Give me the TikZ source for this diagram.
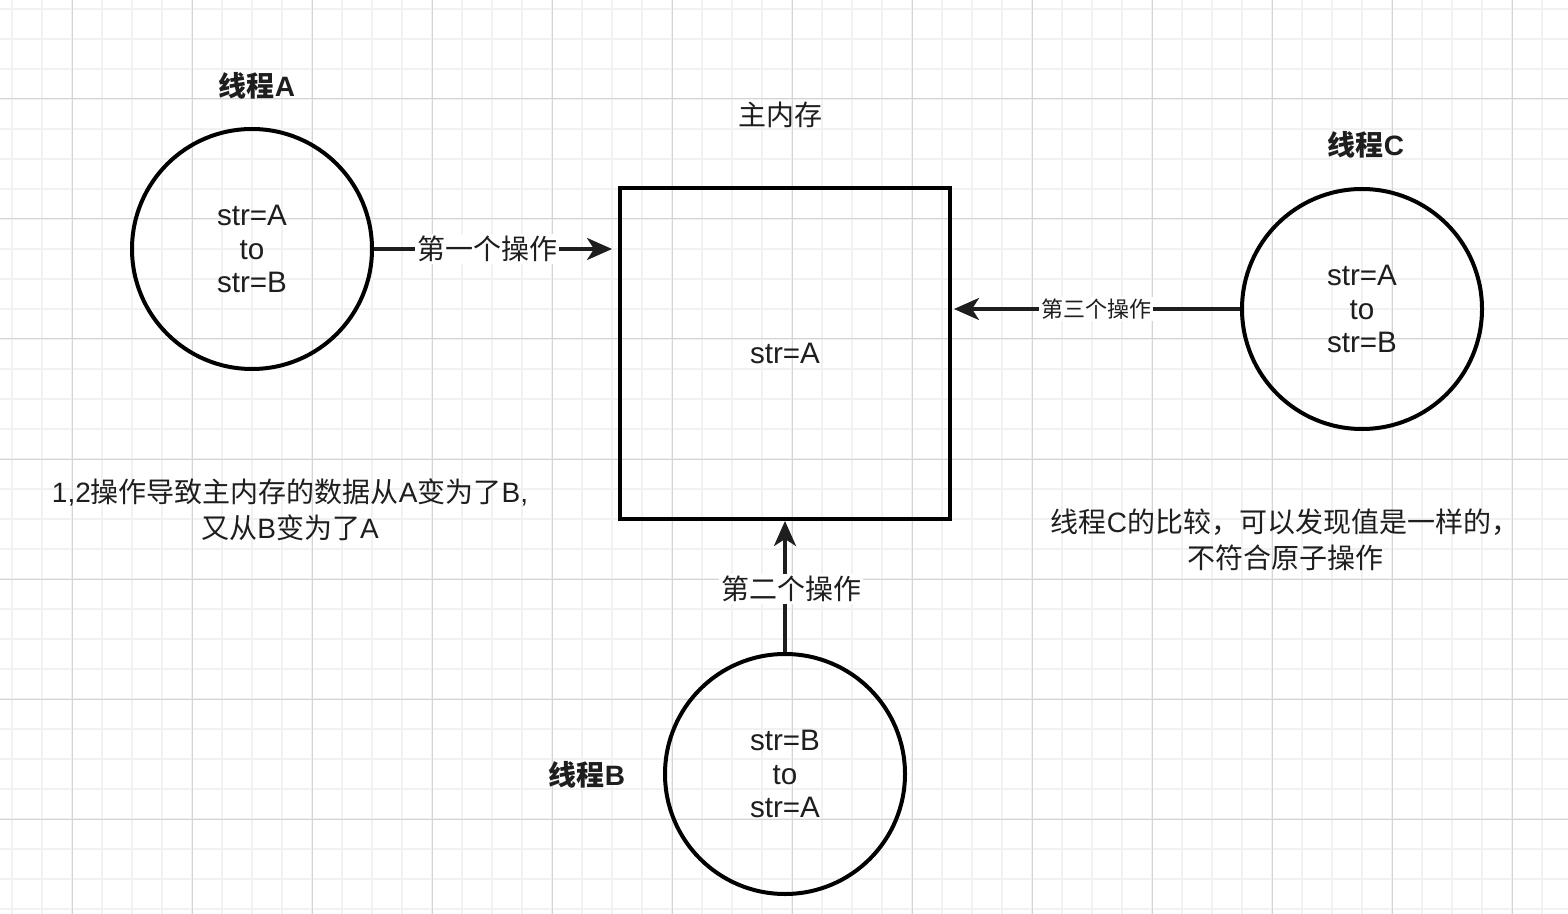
\documentclass[tikz,border=0pt]{standalone}
\usepackage{fontspec}
\setmainfont{Liberation Sans}
\newfontfamily\cjk{Noto Sans CJK SC}
\usetikzlibrary{arrows.meta, positioning}
\definecolor{inkcolor}{RGB}{30,30,30}
\definecolor{minorgrid}{RGB}{241,241,241}
\definecolor{majorgrid}{RGB}{212,212,212}

\begin{document}
\begin{tikzpicture}[
    x=0.5pt, y=-0.5pt,
    thread/.style={circle, draw=black, line width=2pt, minimum size=120pt, inner sep=0pt, align=center, font=\fontsize{14.8}{16.8}\selectfont, text=inkcolor},
    memory/.style={rectangle, draw=black, line width=2pt, minimum width=165pt, minimum height=165.5pt, font=\fontsize{14.8}{16.8}\selectfont, text=inkcolor},
    title/.style={font=\fontsize{14}{16.8}\selectfont\bfseries, text=inkcolor},
    plain/.style={font=\fontsize{14}{16.8}\selectfont, text=inkcolor},
    note/.style={align=center, font=\fontsize{14}{18}\selectfont, text=inkcolor},
    oplabel/.style={fill=white, inner sep=1pt, font=\fontsize{14}{16.8}\selectfont, text=inkcolor},
    arrow/.style={-{Stealth[length=12.5pt, width=11pt, inset=3.5pt]}, line width=1.75pt, draw=inkcolor}
]
    % background and grid
    \useasboundingbox (0,0) rectangle (1568,914);
    \fill[white] (0,0) rectangle (1568,914);
    \foreach \gx in {12,42,...,1562} \draw[minorgrid, line width=0.6pt] (\gx,0) -- (\gx,914);
    \foreach \gy in {9,39,...,909} \draw[minorgrid, line width=0.6pt] (0,\gy) -- (1568,\gy);
    \foreach \gx in {72,192,...,1512} \draw[majorgrid, line width=0.5pt] (\gx,0) -- (\gx,914);
    \foreach \gy in {99,219,...,819} \draw[majorgrid, line width=0.5pt] (0,\gy) -- (1568,\gy);

    % threads and main memory
    \node[thread] (thA) at (252,249) {str=A\\to\\str=B};
    \node[thread] (thC) at (1362,309) {str=A\\to\\str=B};
    \node[thread] (thB) at (785,774) {str=B\\to\\str=A};
    \node[memory] (mem) at (785,353.5) {\raisebox{-1pt}{str=A}};

    \node[title] (titleA) at (257,86) {{\cjk 线程}A};
    \node[title] (titleC) at (1366,145) {{\cjk 线程}C};
    \node[title] (titleB) at (587,775) {{\cjk 线程}B};
    \node[plain] (memtitle) at (780,115) {{\cjk 主内存}};

    % notes
    \node[note] (noteL) at (290,510) {1,2{\cjk 操作导致主内存的数据从}A{\cjk 变为了}B,\\{\cjk 又从}B{\cjk 变为了}A};
    \node[note] (noteR) at (1285,540) {{\cjk 线程}C{\cjk 的比较，可以发现值是一样的，}\\{\cjk 不符合原子操作}};

    % operations
    \draw[arrow, shorten >=3pt] (thA.east) -- (thA.east -| mem.west)
        node[oplabel, pos=0.465] {{\cjk 第一个操作}};
    \draw[arrow] (thB.north) -- (thB.north |- mem.south)
        node[oplabel, pos=0.48, xshift=3pt] {{\cjk 第二个操作}};
    \draw[arrow, shorten >=1pt] (thC.west) -- (thC.west -| mem.east)
        node[oplabel, font=\fontsize{11}{13}\selectfont, pos=0.5] {{\cjk 第三个操作}};
\end{tikzpicture}
\end{document}
